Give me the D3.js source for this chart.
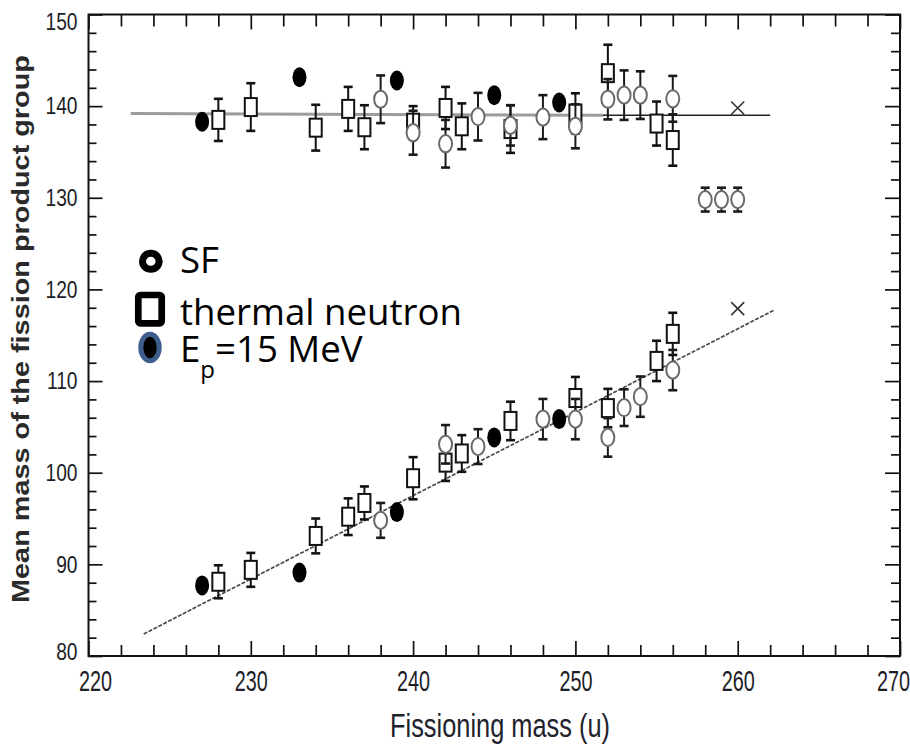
<!DOCTYPE html>
<html>
<head>
<meta charset="UTF-8">
<title>Mean mass of the fission product group</title>
<script src="https://cdn.jsdelivr.net/npm/d3@7"></script>
<style>
    body { margin: 0; background: #fff; }
    svg { display: block; }
    .tick text { font-family: "Liberation Sans", Arial, sans-serif; fill: #1d1d26; }
</style>
</head>
<body>
<svg id="chart" width="910" height="747"></svg>
<script>
    // axis ticks
    var xMajor = [220, 230, 240, 250, 260, 270];
    var yMajor = [80, 90, 100, 110, 120, 130, 140, 150];

    // SF (open circles), heavy + light group
    var sfMass = [238, 240, 242, 244, 246, 248, 250, 252, 253, 254, 256, 258, 259, 260,
                  238, 242, 244, 248, 250, 252, 253, 254, 256];
    var sfMean = [140.75, 137.1, 135.9, 138.85, 137.9, 138.8, 137.8, 140.75, 141.2, 141.2, 140.8, 129.8, 129.8, 129.8,
                  94.8, 103.1, 102.85, 105.85, 105.85, 103.85, 107.1, 108.3, 111.2];
    var sfErr = [2.6, 2.4, 2.6, 2.6, 2.2, 2.4, 2.4, 2.2, 2.7, 2.6, 2.5, 1.3, 1.3, 1.3,
                 1.9, 2.1, 1.9, 2.2, 2.2, 2.1, 2.0, 2.2, 2.2];

    // thermal neutron (open squares)
    var thMass = [228, 230, 234, 236, 237, 240, 242, 243, 246, 250, 252, 255, 256,
                  228, 230, 234, 236, 237, 240, 242, 243, 246, 250, 252, 255, 256];
    var thMean = [138.5, 139.9, 137.65, 139.7, 137.7, 138.2, 139.8, 137.8, 137.5, 139.2, 143.6, 138.1, 136.3,
                  88.1, 89.4, 93.1, 95.2, 96.7, 99.4, 101.1, 102.1, 105.65, 108.15, 107.05, 112.2, 115.15];
    var thErr = [2.3, 2.6, 2.5, 2.4, 2.4, 1.8, 2.3, 2.5, 2.6, 2.2, 3.1, 2.4, 2.8,
                 1.8, 1.85, 1.9, 2.0, 1.8, 2.3, 2.0, 2.0, 2.1, 2.3, 2.1, 2.2, 2.3];

    // Ep = 15 MeV (filled)
    var epMass = [227, 233, 239, 245, 249, 227, 233, 239, 245, 249];
    var epMean = [138.3, 143.15, 142.8, 141.2, 140.4, 87.7, 89.1, 95.7, 103.85, 105.85];

    // crosses at A = 260
    var crossMass = [260, 260];
    var crossMean = [139.8, 117.9];

    // fit lines
    var heavyGrey = [[222.6, 139.2], [251.7, 139.0]];
    var heavyBlack = [[251.7, 139.0], [262.0, 139.0]];
    var lightFit = [[223.4, 82.4], [262.2, 117.7]];

    var svg = d3.select('#chart');
    svg.append('rect').attr('width', 910).attr('height', 747).attr('fill', '#fff');

    var x = d3.scaleLinear().domain([220, 270]).range([88.5, 900]);
    var y = d3.scaleLinear().domain([80, 150]).range([656, 14.5]);

    var xMinor = d3.range(222, 270, 2).filter(function (v) { return v % 10 !== 0; });
    var yMinor = d3.range(82, 150, 2).filter(function (v) { return v % 10 !== 0; });

    function cleanAxis(g) {
        g.select('.domain').remove();
        g.selectAll('.tick line').attr('stroke', '#111').attr('stroke-width', 1.7);
    }

    // bottom
    var gxb = svg.append('g').attr('transform', 'translate(0,656)')
        .call(d3.axisBottom(x).tickValues(xMajor).tickSize(-15).tickSizeOuter(0).tickPadding(14).tickFormat(d3.format('d')))
        .call(cleanAxis);
    gxb.selectAll('.tick text')
        .attr('font-size', 30)
        .attr('transform', function (d) {
            var dx = d === 220 ? 6.5 : (d === 270 ? -7 : 0);
            return 'translate(' + dx + ',0) scale(0.66,1)';
        });
    svg.append('g').attr('transform', 'translate(0,656)')
        .call(d3.axisBottom(x).tickValues(xMinor).tickSize(-11).tickSizeOuter(0).tickFormat(''))
        .call(cleanAxis);

    // top
    svg.append('g').attr('transform', 'translate(0,14.5)')
        .call(d3.axisTop(x).tickValues(xMajor).tickSize(-15).tickSizeOuter(0).tickFormat(''))
        .call(cleanAxis);
    svg.append('g').attr('transform', 'translate(0,14.5)')
        .call(d3.axisTop(x).tickValues(xMinor).tickSize(-12).tickSizeOuter(0).tickFormat(''))
        .call(cleanAxis);

    // left
    var gyl = svg.append('g').attr('transform', 'translate(88.5,0)')
        .call(d3.axisLeft(y).tickValues(yMajor).tickSize(-14).tickSizeOuter(0).tickPadding(11).tickFormat(d3.format('d')))
        .call(cleanAxis);
    gyl.selectAll('.tick text')
        .attr('font-size', 24)
        .attr('x', -11 / 0.8)
        .attr('transform', function (d) {
            var dy = d === 150 ? 7 : (d === 80 ? -4 : 0);
            return 'translate(0,' + dy + ') scale(0.8,1)';
        });
    svg.append('g').attr('transform', 'translate(88.5,0)')
        .call(d3.axisLeft(y).tickValues(yMinor).tickSize(-8).tickSizeOuter(0).tickFormat(''))
        .call(cleanAxis);

    // right
    svg.append('g').attr('transform', 'translate(900,0)')
        .call(d3.axisRight(y).tickValues(yMajor).tickSize(-15).tickSizeOuter(0).tickFormat(''))
        .call(cleanAxis);
    svg.append('g').attr('transform', 'translate(900,0)')
        .call(d3.axisRight(y).tickValues(yMinor).tickSize(-9).tickSizeOuter(0).tickFormat(''))
        .call(cleanAxis);

    svg.append('rect')
        .attr('x', 88.5).attr('y', 14.5)
        .attr('width', 900 - 88.5).attr('height', 656 - 14.5)
        .attr('fill', 'none').attr('stroke', '#111').attr('stroke-width', 2);

    // axis titles
    var xt = svg.append('text')
        .attr('font-family', '"Liberation Sans", Arial, sans-serif')
        .attr('font-size', 34).attr('fill', '#22222c')
        .attr('text-anchor', 'middle')
        .text('Fissioning mass (u)');
    var xtLen = xt.node().getComputedTextLength();
    xt.attr('transform', 'translate(500,737) scale(' + (220 / xtLen) + ',1)');

    var yt = svg.append('text')
        .attr('font-family', '"Liberation Sans", Arial, sans-serif')
        .attr('font-size', 23).attr('font-weight', 'bold').attr('fill', '#2a2a2a')
        .attr('text-anchor', 'middle')
        .text('Mean mass of the fission product group');
    var ytLen = yt.node().getComputedTextLength();
    yt.attr('transform', 'translate(28.5,329) rotate(-90) scale(' + (548 / ytLen) + ',1)');

    // fit lines
    var line = d3.line().x(function (d) { return x(d[0]); }).y(function (d) { return y(d[1]); });
    svg.append('path').attr('d', line(heavyGrey)).attr('fill', 'none')
        .attr('stroke', '#9c9c9c').attr('stroke-width', 3);
    svg.append('path').attr('d', line(heavyBlack)).attr('fill', 'none')
        .attr('stroke', '#222').attr('stroke-width', 1.6);
    svg.append('path').attr('d', line(lightFit)).attr('fill', 'none')
        .attr('stroke', '#4a4a4a').attr('stroke-width', 1.7).attr('stroke-dasharray', '4,1.5');

    function errorBars(mass, mean, err, color) {
        var g = svg.append('g').attr('stroke', color).attr('stroke-width', 2);
        mass.forEach(function (m, i) {
            var cx = x(m), lo = y(mean[i] - err[i]), hi = y(mean[i] + err[i]);
            g.append('line').attr('x1', cx).attr('x2', cx).attr('y1', lo).attr('y2', hi);
            g.append('line').attr('x1', cx - 4.5).attr('x2', cx + 4.5).attr('y1', lo).attr('y2', lo).attr('stroke-width', 2.6);
            g.append('line').attr('x1', cx - 4.5).attr('x2', cx + 4.5).attr('y1', hi).attr('y2', hi).attr('stroke-width', 2.6);
        });
    }

    // thermal neutron squares
    errorBars(thMass, thMean, thErr, '#111');
    svg.append('g').selectAll('rect').data(thMass).enter().append('rect')
        .attr('x', function (d) { return x(d) - 6; })
        .attr('y', function (d, i) { return y(thMean[i]) - 9; })
        .attr('width', 12).attr('height', 18)
        .attr('fill', '#fff').attr('stroke', '#111').attr('stroke-width', 2);

    // SF circles
    errorBars(sfMass, sfMean, sfErr, '#1a1a1a');
    svg.append('g').selectAll('ellipse').data(sfMass).enter().append('ellipse')
        .attr('cx', function (d) { return x(d); })
        .attr('cy', function (d, i) { return y(sfMean[i]); })
        .attr('rx', 6.5).attr('ry', 8.6)
        .attr('fill', '#fff').attr('stroke', '#6a6a6a').attr('stroke-width', 2);

    // Ep = 15 MeV filled
    svg.append('g').selectAll('ellipse').data(epMass).enter().append('ellipse')
        .attr('cx', function (d) { return x(d); })
        .attr('cy', function (d, i) { return y(epMean[i]); })
        .attr('rx', 7).attr('ry', 10)
        .attr('fill', '#000');

    // crosses
    svg.append('g').selectAll('path').data(crossMass).enter().append('path')
        .attr('d', function (d, i) {
            var cx = x(d), cy = y(crossMean[i]);
            return 'M' + (cx - 6.5) + ',' + (cy - 6.5) + 'L' + (cx + 6.5) + ',' + (cy + 6.5) +
                'M' + (cx - 6.5) + ',' + (cy + 6.5) + 'L' + (cx + 6.5) + ',' + (cy - 6.5);
        })
        .attr('stroke', '#333').attr('stroke-width', 1.6).attr('fill', 'none');

    // legend
    var lg = svg.append('g');
    lg.append('ellipse').attr('cx', 150.8).attr('cy', 261.3).attr('rx', 8.3).attr('ry', 8)
        .attr('fill', '#fff').attr('stroke', '#000').attr('stroke-width', 7);
    lg.append('rect').attr('x', 138.3).attr('y', 295).attr('width', 23.4).attr('height', 28.3)
        .attr('rx', 2).attr('fill', '#fff').attr('stroke', '#000').attr('stroke-width', 6.7);
    lg.append('ellipse').attr('cx', 150).attr('cy', 347.5).attr('rx', 9.2).attr('ry', 13.3)
        .attr('fill', '#000').attr('stroke', '#3e5f8e').attr('stroke-width', 5);

    var probe = lg.append('text').attr('font-family', '"Open Sans", sans-serif')
        .attr('font-size', 32).text('thermal neutron');
    var fs = 32 * 282 / probe.node().getComputedTextLength();
    probe.remove();

    var legendLabels = ['SF', 'thermal neutron'];
    var legendBase = [273, 325];
    legendLabels.forEach(function (t, i) {
        lg.append('text').attr('x', 180).attr('y', legendBase[i])
            .attr('font-family', '"Open Sans", sans-serif')
            .attr('font-size', fs).attr('fill', '#000').text(t);
    });
    var ep = lg.append('text').attr('x', 180).attr('y', 362)
        .attr('font-family', '"Open Sans", sans-serif')
        .attr('font-size', fs).attr('fill', '#000');
    ep.append('tspan').text('E');
    ep.append('tspan').attr('font-size', 24).attr('dy', 16).text('p');
    ep.append('tspan').attr('dy', -16).text('=15 MeV');
</script>
</body>
</html>
